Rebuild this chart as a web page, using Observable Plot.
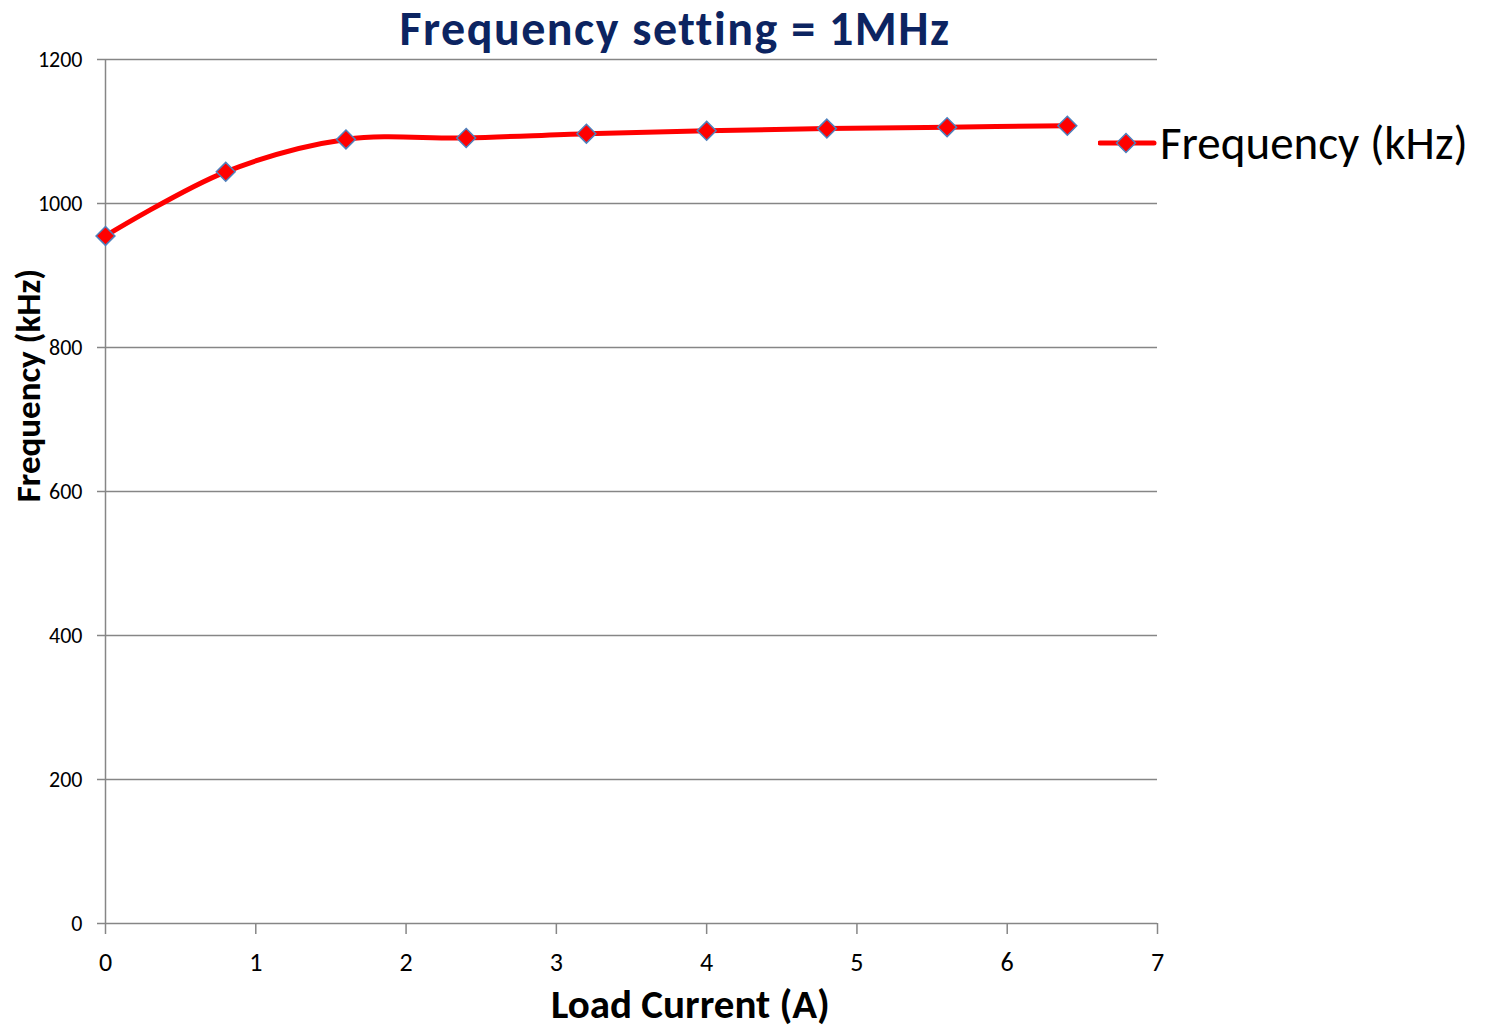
<!DOCTYPE html>
<html>
<head>
<meta charset="utf-8">
<script src="https://cdn.jsdelivr.net/npm/d3@7"></script>
<script src="https://cdn.jsdelivr.net/npm/@observablehq/plot@0.6"></script>
<style>
  body { margin: 0; background: #fff; font-family: Carlito, Lato, sans-serif; }
  #wrap { position: relative; width: 1485px; height: 1027px; }
  #title { height: 52px; width: 1350px; text-align: center; font-weight: bold; font-size: 48px; line-height: 57.6px; letter-spacing: 1.5px; color: #0c2461; white-space: nowrap; }
  #legend { position: absolute; left: 1098px; top: 120px; display: flex; align-items: center; height: 46px; }
  #legend span { font-size: 47px; color: #000; margin-left: 2px; line-height: 46px; }
</style>
</head>
<body>
<div id="wrap">
  <div id="title">Frequency setting = 1MHz</div>
  <div id="chart"></div>
  <div id="legend"></div>
</div>
<script>
const loadCurrent = [0, 0.8, 1.6, 2.4, 3.2, 4.0, 4.8, 5.6, 6.4];
const frequencyKHz = [955, 1044, 1089, 1091, 1097, 1101, 1104, 1106, 1108];
const xTicks = [0, 1, 2, 3, 4, 5, 6, 7];
const yTicks = [0, 200, 400, 600, 800, 1000, 1200];
const seriesName = "Frequency (kHz)";
const xLabel = "Load Current (A)";
const yLabel = "Frequency (kHz)";

const data = loadCurrent.map((x, i) => ({x, y: frequencyKHz[i]}));
const gridColor = "#868686";
const lineColor = "#ff0000";
const markerStroke = "#4f81bd";

const chart = Plot.plot({
  width: 1485,
  height: 975,
  marginTop: 7,
  marginLeft: 105,
  marginRight: 328,
  marginBottom: 104,
  style: {fontFamily: "Carlito, Lato, sans-serif", overflow: "visible", background: "white", color: "black"},
  x: {domain: [0, 7]},
  y: {domain: [0, 1200]},
  marks: [
    Plot.gridY(yTicks, {stroke: gridColor, strokeOpacity: 1, strokeWidth: 1.5}),
    Plot.ruleX([0], {stroke: gridColor, strokeWidth: 1.5}),
    Plot.axisY(yTicks, {tickSize: 8, tickPadding: 15, fontSize: 22, stroke: gridColor, strokeWidth: 1.5, fill: "black", label: null, tickFormat: d => String(d)}),
    Plot.axisX(xTicks, {tickSize: 11, tickPadding: 18, fontSize: 26, stroke: gridColor, strokeWidth: 1.5, fill: "black", label: null, tickFormat: d => String(d)}),
    Plot.text([xLabel], {frameAnchor: "bottom", lineAnchor: "middle", textAnchor: "middle", dx: 59, dy: 81.5, fontSize: 41, fontWeight: "bold", fill: "black"}),
    Plot.text([yLabel], {frameAnchor: "left", lineAnchor: "middle", textAnchor: "middle", rotate: -90, dx: -77, dy: -106, fontSize: 35, fontWeight: "bold", fill: "black"}),
    Plot.line(data, {x: "x", y: "y", curve: "catmull-rom", stroke: lineColor, strokeWidth: 5}),
    Plot.dot(data, {x: "x", y: "y", symbol: "diamond2", r: 8.5, fill: lineColor, stroke: markerStroke, strokeWidth: 1.5})
  ]
});
document.getElementById("chart").appendChild(chart);

// legend
const legend = document.getElementById("legend");
const ls = d3.create("svg").attr("width", 60).attr("height", 46);
ls.append("line").attr("x1", 2).attr("x2", 56).attr("y1", 23).attr("y2", 23)
  .attr("stroke", lineColor).attr("stroke-width", 5).attr("stroke-linecap", "round");
ls.append("path").attr("d", d3.symbol(d3.symbolDiamond2, Math.PI * 8.5 * 8.5)()).attr("transform", "translate(28,23)")
  .attr("fill", lineColor).attr("stroke", markerStroke).attr("stroke-width", 1.5);
legend.appendChild(ls.node());
const lt = document.createElement("span");
lt.textContent = seriesName;
legend.appendChild(lt);
</script>
</body>
</html>
